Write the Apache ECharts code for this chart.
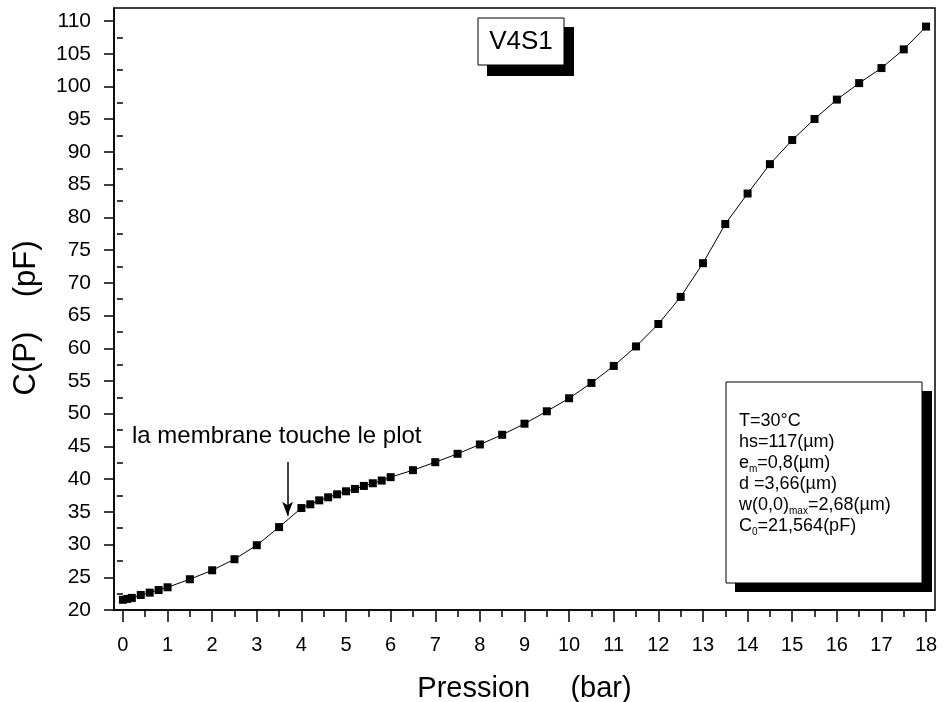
<!DOCTYPE html>
<html>
<head>
<meta charset="utf-8">
<script src="https://cdn.jsdelivr.net/npm/echarts@6/dist/echarts.min.js"></script>
<style>
html,body{margin:0;padding:0;background:#fff;}
#chart{width:943px;height:702px;}
</style>
</head>
<body>
<div id="chart"></div>
<script>
// Data
var pressure = [0, 0.1, 0.2, 0.4, 0.6, 0.8, 1.0, 1.5, 2, 2.5, 3, 3.5, 4, 4.2, 4.4, 4.6, 4.8, 5, 5.2, 5.4, 5.6, 5.8, 6, 6.5, 7, 7.5, 8, 8.5, 9, 9.5, 10, 10.5, 11, 11.5, 12, 12.5, 13, 13.5, 14, 14.5, 15, 15.5, 16, 16.5, 17, 17.5, 18];
var capacitance = [21.56, 21.7, 21.85, 22.3, 22.65, 23.05, 23.47, 24.7, 26.07, 27.76, 29.9, 32.67, 35.58, 36.15, 36.76, 37.22, 37.68, 38.14, 38.5, 38.96, 39.37, 39.78, 40.3, 41.37, 42.59, 43.87, 45.3, 46.78, 48.47, 50.37, 52.36, 54.7, 57.3, 60.28, 63.71, 67.85, 73.0, 78.99, 83.65, 88.14, 91.82, 95.04, 98.0, 100.52, 102.82, 105.68, 109.16];
var xTicks = [0,1,2,3,4,5,6,7,8,9,10,11,12,13,14,15,16,17,18];
var xMinorTicks = [0.5,1.5,2.5,3.5,4.5,5.5,6.5,7.5,8.5,9.5,10.5,11.5,12.5,13.5,14.5,15.5,16.5,17.5];
var yTicks = [20,25,30,35,40,45,50,55,60,65,70,75,80,85,90,95,100,105,110];
var yMinorTicks = [22.5,27.5,32.5,37.5,42.5,47.5,52.5,57.5,62.5,67.5,72.5,77.5,82.5,87.5,92.5,97.5,102.5,107.5];
var arrowX = [3.69, 3.69];
var arrowY = [42.6, 34.4];

var FONT = 'Liberation Sans, Arial, sans-serif';
var chart = echarts.init(document.getElementById('chart'));
var seriesData = pressure.map(function (p, i) { return [p, capacitance[i]]; });

var axisCommon = {
  type: 'value',
  splitLine: { show: false },
  axisLine: { show: true, onZero: false, lineStyle: { color: '#000', width: 1.5 } }
};

chart.setOption({
  backgroundColor: '#fff',
  animation: false,
  grid: { left: 114, right: 8, top: 8, bottom: 92, containLabel: false, outerBoundsMode: 'none', show: true, borderColor: '#000', borderWidth: 1.5, backgroundColor: 'transparent' },
  xAxis: [
    Object.assign({}, axisCommon, {
      min: -0.2, max: 18.2, position: 'bottom',
      name: 'Pression     (bar)', nameLocation: 'middle', nameGap: 64,
      nameTextStyle: { fontFamily: FONT, fontSize: 29, color: '#000' },
      axisTick: { show: true, inside: false, length: 12, lineStyle: { color: '#000', width: 1.5 }, customValues: xTicks },
      axisLabel: { show: true, margin: 25, fontFamily: FONT, fontSize: 20, color: '#000', customValues: xTicks, formatter: function (v) { return String(v); } }
    }),
    Object.assign({}, axisCommon, {
      min: -0.2, max: 18.2, position: 'bottom',
      axisLine: { show: false },
      axisTick: { show: true, inside: false, length: 7, lineStyle: { color: '#000', width: 1.5 }, customValues: xMinorTicks },
      axisLabel: { show: false }
    })
  ],
  yAxis: [
    Object.assign({}, axisCommon, {
      min: 20, max: 112, position: 'left',
      axisTick: { show: true, inside: false, length: 10, lineStyle: { color: '#000', width: 1.5 }, customValues: yTicks },
      axisLabel: { show: true, margin: 23, fontFamily: FONT, fontSize: 21, color: '#000', customValues: yTicks, formatter: function (v) { return String(v); } }
    }),
    Object.assign({}, axisCommon, {
      min: 20, max: 112, position: 'left',
      axisLine: { show: false },
      axisTick: { show: true, inside: false, length: 6, lineStyle: { color: '#000', width: 1.5 }, customValues: yMinorTicks },
      axisLabel: { show: false }
    })
  ],
  series: [{
    type: 'line',
    xAxisIndex: 0, yAxisIndex: 0,
    data: seriesData,
    symbol: 'rect', symbolSize: 8, showAllSymbol: true,
    lineStyle: { color: '#000', width: 1 },
    itemStyle: { color: '#000' },
    markLine: {
      silent: true,
      symbol: ['none', 'arrow'], symbolSize: [8, 14],
      label: { show: false },
      lineStyle: { color: '#000', width: 1.5, type: 'solid' },
      data: [[{ coord: [arrowX[0], arrowY[0]] }, { coord: [arrowX[1], arrowY[1]] }]]
    }
  }],
  graphic: [
    { type: 'text', x: 26, y: 318, rotation: Math.PI / 2, style: { text: 'C(P)    (pF)', fontFamily: FONT, fontSize: 31, fill: '#000', align: 'center', verticalAlign: 'middle' } },
    { type: 'text', left: 132, top: 424, style: { text: 'la membrane touche le plot', fontFamily: FONT, fontSize: 24, fill: '#000' } },
    // title box with shadow
    { type: 'rect', shape: { x: 487, y: 27, width: 87, height: 49 }, style: { fill: '#000' } },
    { type: 'rect', shape: { x: 478, y: 18, width: 86, height: 47 }, style: { fill: '#fff', stroke: '#000', lineWidth: 1 } },
    { type: 'text', x: 521, y: 42, style: { text: 'V4S1', fontFamily: FONT, fontSize: 26, fill: '#000', align: 'center', verticalAlign: 'middle' } },
    // parameter box with shadow
    { type: 'rect', shape: { x: 735, y: 391, width: 197, height: 201 }, style: { fill: '#000' } },
    { type: 'rect', shape: { x: 726, y: 382, width: 196, height: 201 }, style: { fill: '#fff', stroke: '#000', lineWidth: 1 } },
    { type: 'text', x: 739, y: 411, style: {
        text: 'T=30°C\nhs=117(µm)\ne{sub|m}=0,8(µm)\nd =3,66(µm)\nw(0,0){sub|max}=2,68(µm)\nC{sub|0}=21,564(pF)',
        fontFamily: FONT, fontSize: 18, fill: '#000', lineHeight: 21,
        rich: { sub: { fontFamily: FONT, fontSize: 10, fill: '#000', verticalAlign: 'bottom', lineHeight: 21, padding: [10, 0, 0, 0] } }
    } }
  ]
});
</script>
</body>
</html>
